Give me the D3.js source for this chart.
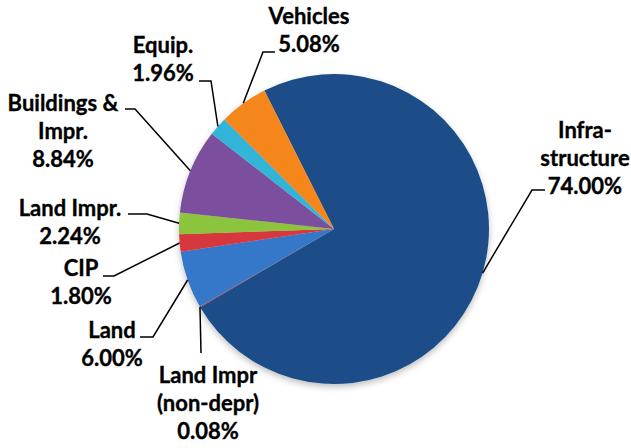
<!DOCTYPE html>
<html>
<head>
<meta charset="utf-8">
<script src="https://cdn.jsdelivr.net/npm/d3@7"></script>
<style>
  body { margin: 0; background: #fff; }
  svg { display: block; }
  .lbl { font-family: Lato, "Open Sans", sans-serif; font-weight: 700; font-size: 22px; fill: #000; stroke: #000; stroke-width: 0.35px; }
</style>
</head>
<body>
<svg id="chart" width="631" height="448"></svg>
<script>
// slices, clockwise from the first one (Infrastructure)
const categories = ["Infrastructure", "Land Impr (non-depr)", "Land", "CIP", "Land Impr.", "Buildings & Impr.", "Equip.", "Vehicles"];
const shares = [74.00, 0.08, 6.00, 1.80, 2.24, 8.84, 1.96, 5.08];
const labelLines = [
  ["Infra-", "structure"],
  ["Land Impr", "(non-depr)"],
  ["Land"],
  ["CIP"],
  ["Land Impr."],
  ["Buildings &", "Impr."],
  ["Equip."],
  ["Vehicles"]
];
const colors = ["#1f4e89", "#b23a48", "#3577c8", "#d7373c", "#8cc43c", "#7b4f9e", "#31b5d8", "#f5861f"];

// where each label sits: text centre x, first baseline, leader elbow and stub end
const layout = [
  { x: 585, y: 138, elbow: [532, 190], stub: [545, 190] },
  { x: 208, y: 383, elbow: null, stub: [201, 353] },
  { x: 112, y: 338, elbow: [153, 337], stub: [140, 337] },
  { x: 81,  y: 276, elbow: [114, 276], stub: [103, 276] },
  { x: 70,  y: 216, elbow: [147, 214], stub: [128, 214] },
  { x: 63,  y: 111, elbow: [135, 109], stub: [125, 109] },
  { x: 163, y: 53,  elbow: [211, 81],  stub: [199, 81] },
  { x: 309, y: 24,  elbow: [263, 52],  stub: [275, 52] }
];

const cx = 334, cy = 229, r = 155;
const lineH = 28;
const start = -26.7 * Math.PI / 180;

const svg = d3.select("#chart");

const defs = svg.append("defs");
const f = defs.append("filter").attr("id", "shadow").attr("x", "-20%").attr("y", "-20%").attr("width", "140%").attr("height", "140%");
f.append("feDropShadow").attr("dx", 0).attr("dy", 3).attr("stdDeviation", 3).attr("flood-color", "#000").attr("flood-opacity", 0.25);

const pie = d3.pie().sort(null).value(d => d).startAngle(start).endAngle(start + 2 * Math.PI);
const arcs = pie(shares);
const arc = d3.arc().innerRadius(0).outerRadius(r);

const g = svg.append("g").attr("transform", `translate(${cx},${cy})`);
g.append("g").attr("filter", "url(#shadow)")
  .selectAll("path")
  .data(arcs)
  .join("path")
  .attr("d", arc)
  .attr("fill", (d, i) => colors[i]);

// leader lines
const edge = d => {
  const a = (d.startAngle + d.endAngle) / 2;
  return [cx + r * Math.sin(a), cy - r * Math.cos(a)];
};
svg.append("g")
  .selectAll("polyline")
  .data(arcs)
  .join("polyline")
  .attr("fill", "none")
  .attr("stroke", "#000")
  .attr("stroke-width", 1.5)
  .attr("points", (d, i) => {
    const p = edge(d), L = layout[i];
    const pts = [p];
    if (L.elbow) pts.push(L.elbow);
    pts.push(L.stub);
    return pts.map(q => q.join(",")).join(" ");
  });

// labels
const fmt = d3.format(".2f");
const labels = svg.append("g")
  .selectAll("text")
  .data(arcs)
  .join("text")
  .attr("class", "lbl")
  .attr("text-anchor", "middle")
  .attr("x", (d, i) => layout[i].x)
  .attr("y", (d, i) => layout[i].y);
labels.each(function (d, i) {
  const t = d3.select(this);
  const lines = labelLines[i].concat([fmt(d.data) + "%"]);
  lines.forEach((s, k) => {
    t.append("tspan").attr("x", layout[i].x).attr("dy", k === 0 ? 0 : lineH).text(s);
  });
});
</script>
</body>
</html>
